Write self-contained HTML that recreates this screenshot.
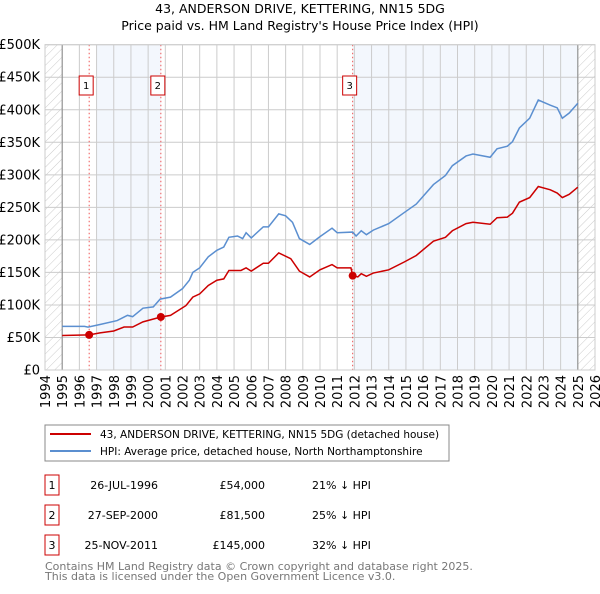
<!DOCTYPE html>
<html><head><meta charset="utf-8"><style>
body{margin:0;background:#fff;font-family:"DejaVu Sans","Liberation Sans",sans-serif;}
svg text{font-family:"DejaVu Sans","Liberation Sans",sans-serif;}
</style></head><body>
<svg id="c" width="600" height="590" xmlns="http://www.w3.org/2000/svg">
<defs><pattern id="hatch" width="6" height="6" patternUnits="userSpaceOnUse" patternTransform="rotate(45)"><line x1="0" y1="0" x2="0" y2="6" stroke="#ccc" stroke-width="1"/></pattern></defs>
<text x="300" y="13" text-anchor="middle" font-size="12.5">43, ANDERSON DRIVE, KETTERING, NN15 5DG</text>
<text x="300" y="30" text-anchor="middle" font-size="12.5">Price paid vs. HM Land Registry's House Price Index (HPI)</text>
<g id="plot"></g>
<rect x="45" y="425" width="404" height="36" fill="#fff" stroke="#888"/>
<line x1="50" y1="434" x2="91" y2="434" stroke="#cc0000" stroke-width="2"/>
<text x="100" y="438" font-size="10.5">43, ANDERSON DRIVE, KETTERING, NN15 5DG (detached house)</text>
<line x1="50" y1="451" x2="91" y2="451" stroke="#5b8fd0" stroke-width="2"/>
<text x="100" y="455" font-size="10.5">HPI: Average price, detached house, North Northamptonshire</text>
<g id="tbl" font-size="11"></g>
<text x="45" y="570" font-size="11" fill="#777">Contains HM Land Registry data © Crown copyright and database right 2025.</text>
<text x="45" y="580" font-size="11" fill="#777">This data is licensed under the Open Government Licence v3.0.</text>
</svg>
<script>
const hpiYears=[1995,1996.3,1996.5,1997.2,1998.2,1998.8,1999.1,1999.7,2000.3,2000.7,2001.3,2002,2002.4,2002.6,2003,2003.5,2004,2004.4,2004.7,2005.2,2005.5,2005.7,2006,2006.7,2007,2007.6,2008,2008.4,2008.8,2009.4,2010,2010.7,2011,2011.9,2012.1,2012.4,2012.7,2013.1,2014,2014.9,2015.6,2016.6,2017.3,2017.7,2018.5,2018.9,2019.9,2020.3,2020.9,2021.2,2021.6,2022.2,2022.7,2023.4,2023.8,2024.1,2024.5,2025];
const hpiValues=[67,67,66,70,76,84,82,95,97,109,112,125,138,150,157,174,184,189,204,206,202,211,203,220,220,240,237,227,202,193,205,218,211,212,206,214,208,215,225,242,255,285,299,314,329,332,327,340,344,351,372,387,415,407,403,387,395,410];
const priceYears=[1995,1996.57,1997.2,1998,1998.6,1999.1,1999.7,2000.74,2001.3,2002.2,2002.6,2003,2003.5,2004,2004.4,2004.7,2005.4,2005.7,2006,2006.7,2007,2007.6,2008.3,2008.8,2009.4,2010,2010.7,2011,2011.8,2011.9,2012.2,2012.4,2012.7,2013.1,2014,2014.9,2015.6,2016.6,2017.3,2017.7,2018.5,2018.9,2019.9,2020.3,2020.9,2021.2,2021.6,2022.2,2022.7,2023.4,2023.8,2024.1,2024.5,2025];
const priceValues=[53,54,57,60,66,66,74,81.5,84,99,112,117,130,138,140,153,153,157,152,164,164,180,171,152,143,154,162,157,157,145,143,148,144,149,154,166,176,198,204,214,225,227,224,234,235,241,258,265,282,277,272,265,270,281];
const saleLabels=["1","2","3"];
const saleYears=[1996.57,2000.74,2011.9];
const saleValues=[54,81.5,145];
const saleDates=["26-JUL-1996","27-SEP-2000","25-NOV-2011"];
const salePrices=["£54,000","£81,500","£145,000"];
const saleDiffs=["21% ↓ HPI","25% ↓ HPI","32% ↓ HPI"];
const yTicks=[0,50,100,150,200,250,300,350,400,450,500];
const yTickLabels=["£0","£50K","£100K","£150K","£200K","£250K","£300K","£350K","£400K","£450K","£500K"];
const xTicks=[1994,1995,1996,1997,1998,1999,2000,2001,2002,2003,2004,2005,2006,2007,2008,2009,2010,2011,2012,2013,2014,2015,2016,2017,2018,2019,2020,2021,2022,2023,2024,2025,2026];

const NS="http://www.w3.org/2000/svg";
const L=45,R=595,T=44.7,B=370;
const X=y=>L+(y-1994)/32*(R-L);
const Y=v=>B-v/500*(B-T);
const g=document.getElementById('plot');
function mk(tag,a,p){const e=document.createElementNS(NS,tag);for(const k in a)e.setAttribute(k,a[k]);(p||g).appendChild(e);return e;}
let e;
e=mk('rect',{x:L,y:T,width:X(1995)-L,height:B-T,fill:'url(#hatch)'});


e=mk('rect',{x:X(2025),y:T,width:R-X(2025),height:B-T,fill:'url(#hatch)'});


e=mk('rect',{x:X(1997),y:T,width:X(saleYears[1])-X(1997),height:B-T,fill:'#eef3fc',opacity:0.7});


e=mk('rect',{x:X(saleYears[2]),y:T,width:X(2025)-X(saleYears[2]),height:B-T,fill:'#eef3fc',opacity:0.7});


xTicks.forEach((t,i)=>{
  e=mk('line',{x1:X(t),x2:X(t),y1:T,y2:B,stroke:'#ccc','stroke-width':1});
  
  
  e=mk('text',{x:0,y:0,'font-size':13,'text-anchor':'end',transform:`translate(${X(t)+5},375) rotate(-90)`});
  e.textContent=t;
  
  
});
yTicks.forEach((t,i)=>{
  e=mk('line',{x1:L,x2:R,y1:Y(t),y2:Y(t),stroke:'#ccc','stroke-width':1});
  
  
  e=mk('text',{x:40,y:Y(t)+4.5,'font-size':13,'text-anchor':'end'});
  e.textContent=yTickLabels[i];
  
  
});
[1995,2025].forEach(t=>{e=mk('line',{x1:X(t),x2:X(t),y1:T,y2:B,stroke:'#888','stroke-width':1});

});
saleYears.forEach((s,i)=>{
  e=mk('line',{x1:X(s),x2:X(s),y1:T,y2:B,stroke:'#e55','stroke-width':1,'stroke-dasharray':'1.5,2.5'});
  
  
  e=mk('rect',{x:X(s)-10,y:76,width:14,height:19,fill:'#fff',stroke:'#c00'});
  
  
  e=mk('text',{x:X(s)-3,y:89,'font-size':10,'text-anchor':'middle'});
  e.textContent=saleLabels[i];
  
  
});
e=mk('polyline',{points:hpiYears.map((y,i)=>X(y)+','+Y(hpiValues[i])).join(' '),fill:'none',stroke:'#5b8fd0','stroke-width':1.5});


e=mk('polyline',{points:priceYears.map((y,i)=>X(y)+','+Y(priceValues[i])).join(' '),fill:'none',stroke:'#cc0000','stroke-width':1.5});


saleYears.forEach((s,i)=>{
  e=mk('circle',{cx:X(s),cy:Y(saleValues[i]),r:4,fill:'#cc0000'});
  
  
});
mk('rect',{x:L,y:T,width:R-L,height:B-T,fill:'none',stroke:'#ccc'});
const tb=document.getElementById('tbl');
saleLabels.forEach((l,i)=>{
  const y0=475+i*30;
  e=mk('rect',{x:45,y:y0,width:14,height:20,fill:'#fff',stroke:'#c00'},tb);
  
  
  e=mk('text',{x:52,y:y0+14,'text-anchor':'middle'},tb);e.textContent=l;
  
  
  e=mk('text',{x:158,y:y0+14,'text-anchor':'end'},tb);e.textContent=saleDates[i];
  
  
  e=mk('text',{x:265,y:y0+14,'text-anchor':'end'},tb);e.textContent=salePrices[i];
  
  
  e=mk('text',{x:312,y:y0+14},tb);e.textContent=saleDiffs[i];
  
  
});
</script>
</body></html>
